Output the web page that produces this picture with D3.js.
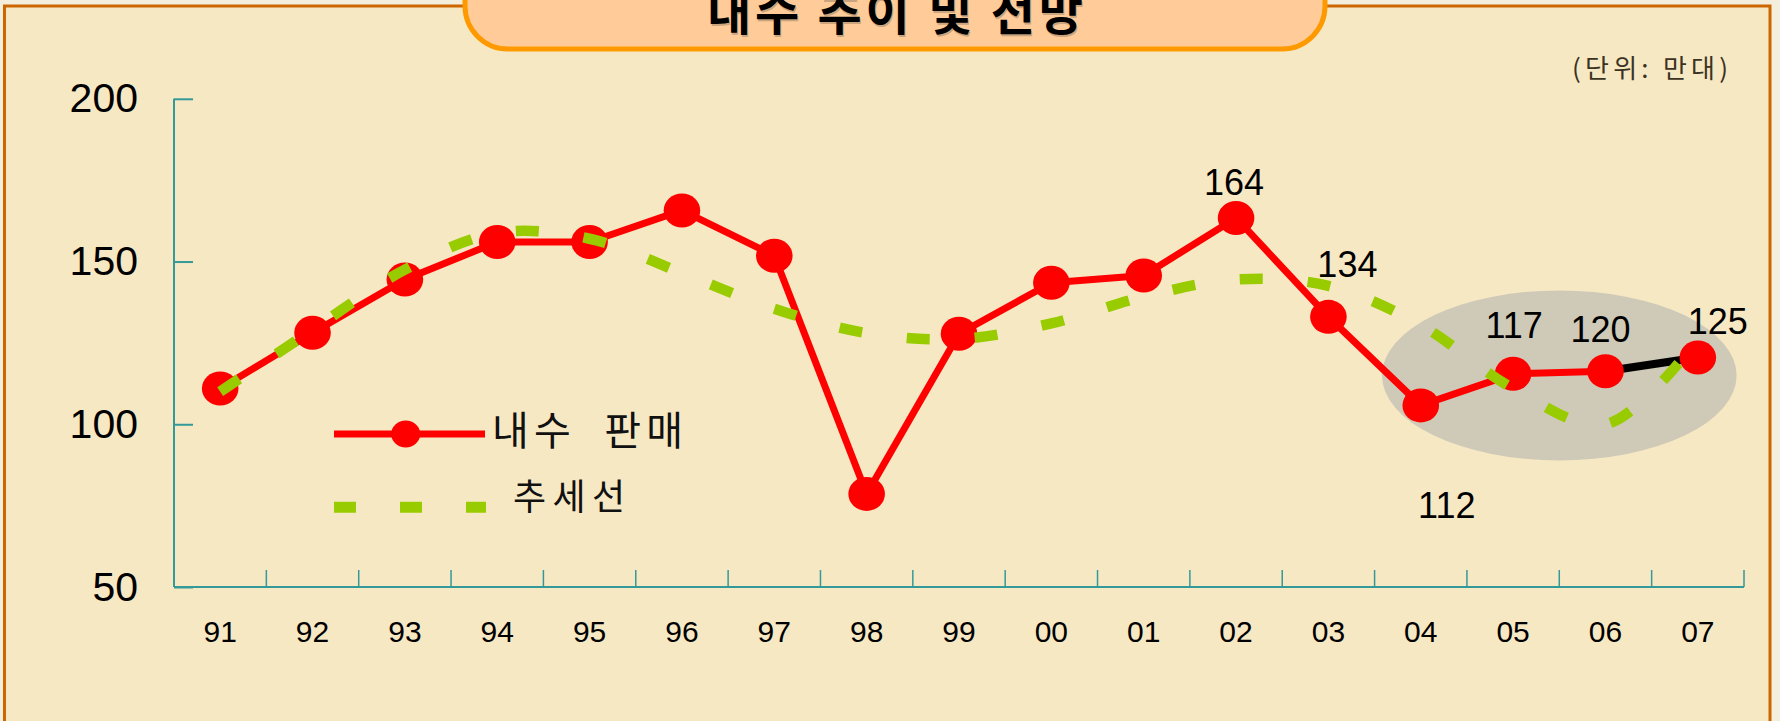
<!DOCTYPE html>
<html>
<head>
<meta charset="utf-8">
<script src="https://cdn.jsdelivr.net/npm/d3@7"></script>
<style>
  html, body { margin: 0; padding: 0; background: #F4EFDD; }
  svg { display: block; }
  .kr { font-family: "Noto Sans CJK KR", "Noto Sans", sans-serif; white-space: pre; }
  .num { font-family: "Liberation Sans", Arial, sans-serif; }
</style>
</head>
<body>
<svg id="chart" width="1780" height="721"></svg>
<script>
// ---------------- data ----------------
const categories = ["91","92","93","94","95","96","97","98","99","00","01","02","03","04","05","06","07"];
const sales      = [111.0, 128.1, 144.5, 156.0, 156.0, 165.7, 151.8, 78.6, 127.8, 143.5, 145.7, 163.4, 133.0, 105.8, 115.5, 116.3, 120.5];
const trend      = [110, 129, 147.5, 158.8, 157, 146.5, 135.5, 128, 126.2, 131, 139.2, 144.5, 142.5, 130.5, 111, 100, 126];
const yTicks     = [50, 100, 150, 200];
const annotationCategories = ["02","03","04","05","06","07"];
const annotationTexts      = ["164","134","112","117","120","125"];
const forecastFrom = "06";   // segment drawn in black (forecast)
const highlightFrom = "04", highlightTo = "07", highlightCenterValue = 115;

const titleText  = "내수 추이 및 전망";
const unitText   = "(단위: 만대)";
const legendSales = "내수  판매";
const legendTrend = "추세선";

// ---------------- layout ----------------
const W = 1780, H = 721;
const plot = { left: 174, right: 1744, top: 98.8, bottom: 587 };
const labelOffsets = [[-2,-23],[19,-40],[26,113],[1,-36],[-5,-29],[20,-24]];

const svg = d3.select("#chart");

// frame
svg.append("rect").attr("x",0).attr("y",0).attr("width",W).attr("height",H).attr("fill","#F4EFDD");
svg.append("rect").attr("x",4.5).attr("y",6).attr("width",1765.5).attr("height",800)
   .attr("fill","#F7E8C4").attr("stroke","#CC6600").attr("stroke-width",3);

// scales
const x = d3.scaleBand().domain(categories).range([plot.left, plot.right]).paddingInner(0).paddingOuter(0);
const y = d3.scaleLinear().domain([50, 200]).range([plot.bottom, plot.top]);
const cx = c => x(c) + x.bandwidth()/2;

// title box
svg.append("rect").attr("x",465).attr("y",-60).attr("width",860).attr("height",109).attr("rx",43).attr("ry",43)
   .attr("fill","#FFCC99").attr("stroke","#FF9900").attr("stroke-width",5);
svg.append("text").attr("class","kr").attr("x",896).attr("y",31.5).attr("text-anchor","middle")
   .attr("font-size",48).attr("font-weight",700).attr("fill","#a88a6a").attr("opacity",0.6)
   .attr("textLength",376).attr("lengthAdjust","spacing").text(titleText);
svg.append("text").attr("class","kr").attr("x",895).attr("y",30).attr("text-anchor","middle")
   .attr("font-size",48).attr("font-weight",700).attr("fill","#000")
   .attr("textLength",376).attr("lengthAdjust","spacing").text(titleText);

// unit
svg.append("text").attr("class","kr").attr("x",1572).attr("y",78).attr("font-size",26)
   .attr("fill","#3b3322").attr("textLength",156).attr("lengthAdjust","spacing").text(unitText);

// highlight ellipse
svg.append("ellipse")
   .attr("cx",(cx(highlightFrom)+cx(highlightTo))/2)
   .attr("cy",y(highlightCenterValue))
   .attr("rx",x.bandwidth()*1.92).attr("ry",85)
   .attr("fill","#CFCAB7");

// axes
const axisColor = "#339999";
const yAxis = d3.axisLeft(y).tickValues(yTicks).tickSize(-19).tickPadding(36).tickFormat(d3.format("d"));
const gy = svg.append("g").attr("transform",`translate(${plot.left},0)`).call(yAxis);
gy.select(".domain").attr("stroke",axisColor).attr("stroke-width",2).attr("d",`M0,${plot.bottom}V${plot.top}`);
gy.selectAll(".tick line").attr("stroke",axisColor).attr("stroke-width",2);
gy.selectAll(".tick text").attr("font-size",41).attr("fill","#000").attr("font-family","Liberation Sans, Arial, sans-serif");

const xAxis = d3.axisBottom(x).tickSize(0).tickPadding(34);
const gx = svg.append("g").attr("transform",`translate(0,${plot.bottom})`).call(xAxis);
gx.select(".domain").attr("stroke",axisColor).attr("stroke-width",2).attr("d",`M${plot.left},0H${plot.right}`);
gx.selectAll(".tick text").attr("font-size",30).attr("fill","#000").attr("font-family","Liberation Sans, Arial, sans-serif");
// x tick marks at band boundaries
gx.selectAll("line.bound").data(categories).enter().append("line").attr("class","bound")
  .attr("x1",d=>x(d)+x.bandwidth()).attr("x2",d=>x(d)+x.bandwidth())
  .attr("y1",0).attr("y2",-17).attr("stroke",axisColor).attr("stroke-width",1.5);

// sales line
const pts = categories.map((c,i)=>({c, v: sales[i]}));
const fIdx = categories.indexOf(forecastFrom);
const line = d3.line().x(d=>cx(d.c)).y(d=>y(d.v));
svg.append("path").datum(pts.slice(0,fIdx+1)).attr("d",line)
   .attr("fill","none").attr("stroke","#FF0000").attr("stroke-width",7).attr("stroke-linejoin","round");
svg.append("path").datum(pts.slice(fIdx)).attr("d",line)
   .attr("fill","none").attr("stroke","#000").attr("stroke-width",8);

svg.selectAll("ellipse.dot").data(pts).enter().append("ellipse").attr("class","dot")
   .attr("cx",d=>cx(d.c)).attr("cy",d=>y(d.v)).attr("rx",18.3).attr("ry",17).attr("fill","#FF0000");

// trend line (on top)
const tpts = categories.map((c,i)=>({c, v: trend[i]}));
const tline = d3.line().x(d=>cx(d.c)).y(d=>y(d.v)).curve(d3.curveCatmullRom.alpha(0.5));
svg.append("path").datum(tpts).attr("d",tline)
   .attr("fill","none").attr("stroke","#99CC00").attr("stroke-width",10.5).attr("stroke-dasharray","23,45");

// annotations
annotationCategories.forEach((c,i)=>{
  const v = sales[categories.indexOf(c)];
  svg.append("text").attr("class","num").attr("x",cx(c)+labelOffsets[i][0]).attr("y",y(v)+labelOffsets[i][1])
     .attr("text-anchor","middle").attr("font-size",36).attr("fill","#000").text(annotationTexts[i]);
});

// legend
const lg = svg.append("g");
lg.append("line").attr("x1",334).attr("x2",485).attr("y1",434).attr("y2",434).attr("stroke","#FF0000").attr("stroke-width",7);
lg.append("ellipse").attr("cx",405.7).attr("cy",434).attr("rx",14.5).attr("ry",13.5).attr("fill","#FF0000");
lg.append("text").attr("class","kr").attr("x",492).attr("y",444.5).attr("font-size",40).attr("fill","#111")
  .attr("textLength",191).attr("lengthAdjust","spacing").text(legendSales);
lg.append("line").attr("x1",334).attr("x2",486).attr("y1",507.3).attr("y2",507.3)
  .attr("stroke","#99CC00").attr("stroke-width",11).attr("stroke-dasharray","22,44");
lg.append("text").attr("class","kr").attr("x",513).attr("y",510).attr("font-size",36).attr("fill","#111")
  .attr("textLength",112).attr("lengthAdjust","spacing").text(legendTrend);
</script>
</body>
</html>
